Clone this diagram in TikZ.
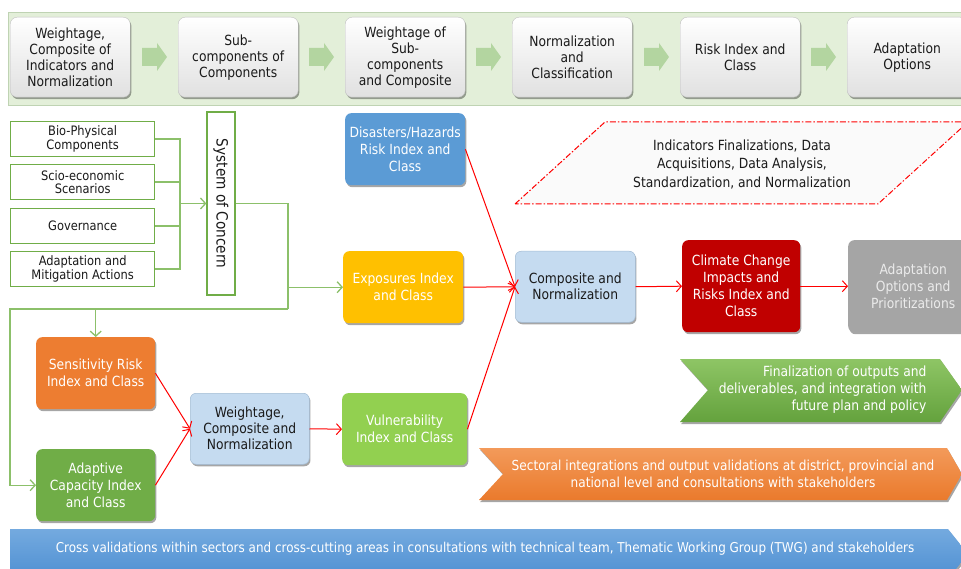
\documentclass[tikz,border=0pt]{standalone}
\usepackage{fontspec}
\setmainfont{DejaVu Sans}[FakeStretch=0.88]
\usetikzlibrary{arrows.meta,shadows,calc}

\definecolor{bandfill}{HTML}{E3EFD9}
\definecolor{banddraw}{HTML}{BFD3B3}
\definecolor{steparrow}{HTML}{B3D5A0}
\definecolor{olgreen}{HTML}{70AD47}
\definecolor{lngreen}{HTML}{8CC06A}
\definecolor{hazblue}{HTML}{5B9BD5}
\definecolor{expoyel}{HTML}{FFC000}
\definecolor{paleblue}{HTML}{C5DBF0}
\definecolor{paleedge}{HTML}{A3BCD4}
\definecolor{ccred}{HTML}{C00000}
\definecolor{optgrey}{HTML}{A5A5A5}
\definecolor{sensor}{HTML}{ED7D31}
\definecolor{adgreen}{HTML}{70AD47}
\definecolor{vulgreen}{HTML}{92D050}
\definecolor{txt}{HTML}{1A1A1A}
\definecolor{fintop}{HTML}{8EC565}
\definecolor{finbot}{HTML}{64A23D}
\definecolor{sectop}{HTML}{F39A5A}
\definecolor{secbot}{HTML}{EA7A2C}
\definecolor{crosstop}{HTML}{74AADF}
\definecolor{crossbot}{HTML}{4E8FD2}

\tikzset{
  shadowed/.style={drop shadow={shadow xshift=1.2pt,shadow yshift=-2pt,opacity=0.35,fill=black}},
  topbox/.style={rounded corners=7pt,top color=white,bottom color=black!12,
    draw=black!25,line width=0.4pt,shadowed,minimum width=120,minimum height=80,
    align=center,anchor=north west,text=txt,font=\fontsize{14}{16}\selectfont,inner sep=2pt},
  srcbox/.style={draw=olgreen,line width=1.3pt,fill=white,minimum width=144,minimum height=35,
    align=center,anchor=north west,text=txt,font=\fontsize{13}{13.5}\selectfont,inner sep=1pt},
  colbox/.style={rounded corners=6pt,fill=#1,shadowed,minimum width=120,minimum height=72,
    align=center,anchor=north west,text=white,font=\fontsize{14}{17}\selectfont,inner sep=2pt},
  palebox/.style={rounded corners=6pt,fill=paleblue,draw=paleedge,line width=0.5pt,shadowed,
    minimum width=120,minimum height=71,align=center,anchor=north west,text=txt,
    font=\fontsize{14}{16}\selectfont,inner sep=2pt},
  gline/.style={draw=lngreen,line width=1.3pt},
  garrow/.style={gline,-{Straight Barb[length=5pt,width=11pt,line width=1.3pt]}},
  rarrow/.style={draw=red,line width=1pt,-{Straight Barb[length=5pt,width=11pt,line width=1pt]}},
  flowarrow/.pic={\fill[steparrow] (-12,-9) -- (3,-9) -- (3,-14) -- (13,0) -- (3,14) -- (3,9) -- (-12,9) -- cycle;}
}

\begin{document}
\begin{tikzpicture}[x=1pt,y=-1pt]
\useasboundingbox (0,0) rectangle (961,569);
\clip (0,0) rectangle (961,569);

% top process band
\path[fill=bandfill,draw=banddraw,line width=0.8pt] (8,12) rectangle (975,105);
\node[topbox] (t1) at (10,17)  {Weightage,\\Composite of\\Indicators and\\Normalization};
\node[topbox] (t2) at (178,17) {Sub-\\components of\\Components};
\node[topbox] (t3) at (345,17) {Weightage of\\Sub-\\components\\and Composite};
\node[topbox] (t4) at (512,17) {Normalization\\and\\Classification};
\node[topbox] (t5) at (680,17) {Risk Index and\\Class};
\node[topbox] (t6) at (847,17) {Adaptation\\Options};
\foreach \ax in {154,321,488,656,823} \pic at (\ax,57) {flowarrow};

% components feeding the system of concern
\node[srcbox] (bio)  at (10,121) {Bio-Physical\\Components};
\node[srcbox] (scio) at (10,164) {Scio-economic\\Scenarios};
\node[srcbox] (gov)  at (10,208) {Governance};
\node[srcbox] (adm)  at (10,251) {Adaptation and\\Mitigation Actions};
\node[draw=olgreen,line width=1.3pt,fill=white,rotate=-90,minimum width=183,minimum height=28,
      inner sep=1pt,text=txt,font=\fontsize{15.5}{16}\selectfont] (soc) at (221,203.5) {System of Concern};

\coordinate (bus) at (180,203.5);
\draw[gline] (bio.east) -| (bus);
\draw[gline] (scio.east) -| (bus);
\draw[gline] (gov.east) -| (bus);
\draw[gline] (adm.east) -| (bus);
\draw[garrow] (bus) -- (soc.south);

% index boxes
\node[colbox=hazblue] (haz)  at (345,113) {Disasters/Hazards\\Risk Index and\\Class};
\node[colbox=expoyel] (expo) at (343,251) {Exposures Index\\and Class};
\node[palebox] (comp) at (515,251) {Composite and\\Normalization};
\node[colbox=ccred,minimum width=118,minimum height=92] (cc) at (682,240) {Climate Change\\Impacts and\\Risks Index and\\Class};
\node[colbox=optgrey,minimum width=130,minimum height=92,text=white!92!black] (opt) at (848,240) {Adaptation\\Options and\\Prioritizations};
\node[colbox=sensor,minimum width=119] (sens) at (36,337) {Sensitivity Risk\\Index and Class};
\node[colbox=adgreen,minimum width=119] (adcap) at (36,449) {Adaptive\\Capacity Index\\and Class};
\node[palebox,minimum width=119] (wcn) at (190,393) {Weightage,\\Composite and\\Normalization};
\node[colbox=vulgreen,minimum width=125] (vul) at (342,393) {Vulnerability\\Index and Class};

% system of concern outputs
\coordinate (drop) at (288,309);
\coordinate (left) at (10,309);
\draw[gline] (soc.north) -| (drop);
\draw[garrow] (expo.west -| drop) -- (expo.west);
\draw[garrow] (drop) -- (left) |- (adcap.west);
\draw[garrow] (sens.north |- drop) -- (sens.north);

% index aggregation
\draw[rarrow] (haz.east) -- (comp.west);
\draw[rarrow] (expo.east) -- (comp.west);
\draw[rarrow] (vul.east) -- (comp.west);
\draw[rarrow] (sens.east) -- (wcn.west);
\draw[rarrow] (adcap.east) -- (wcn.west);
\draw[rarrow] (wcn.east) -- (vul.west);
\draw[rarrow] (comp.east) -- (cc.west);
\draw[rarrow] (cc.east) -- (opt.west);

% data preparation note
\path[draw=red,line width=1pt,dash pattern=on 6pt off 2pt on 1.5pt off 2pt,fill=black!2]
  (515,204) -- (605,122) -- (968,122) -- (878,204) -- cycle;
\node[align=center,text=txt,font=\fontsize{14}{18.5}\selectfont] (prep) at (742,164)
  {Indicators Finalizations, Data\\Acquisitions, Data Analysis,\\Standardization, and Normalization};

% finalization chevron
\path[top color=fintop,bottom color=finbot,shadowed]
  (680,359) -- (940,359) -- (962,390) -- (940,422) -- (680,422) -- (708,390) -- cycle;
\node[anchor=east,align=right,text=white,font=\fontsize{14}{17}\selectfont] (fin) at (930,390)
  {Finalization of outputs and\\deliverables, and integration with\\future plan and policy};

% sectoral integration chevron
\path[top color=sectop,bottom color=secbot,shadowed]
  (479,448) -- (947,448) -- (962,474) -- (947,500) -- (479,500) -- (503,474) -- cycle;
\node[align=center,text=white,font=\fontsize{13.8}{17}\selectfont] (sect) at (723,474)
  {Sectoral integrations and output validations at district, provincial and\\national level and consultations with stakeholders};

% cross validation banner
\path[top color=crosstop,bottom color=crossbot,shadowed]
  (10,529) -- (948,529) -- (968,554) -- (948,579) -- (10,579) -- cycle;
\node[text=white,font=\fontsize{13.6}{17}\selectfont] (cross) at (485,549)
  {Cross validations within sectors and cross-cutting areas in consultations with technical team, Thematic Working Group (TWG) and stakeholders};
\end{tikzpicture}
\end{document}
